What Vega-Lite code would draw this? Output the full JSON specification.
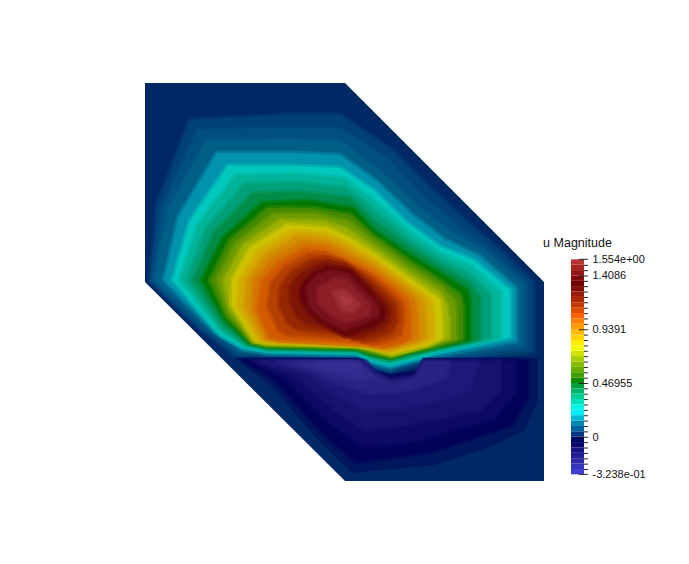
{"$schema":"https://vega.github.io/schema/vega-lite/v6.json","background":"white","padding":{"left":145,"top":83,"right":0,"bottom":0},"bounds":"flush","spacing":27,"resolve":{"scale":{"color":"independent"}},"config":{"view":{"stroke":null},"font":"Liberation Sans"},"hconcat":[{"width":399,"height":398,"projection":{"type":"identity","reflectY":true},"data":{"values":[
{"type":"Feature","properties":{"v":0.01},"geometry":{"type":"Polygon","coordinates":[[[0,398],[200,398],[399,199],[399,0],[200,0],[0,199],[0,398]]]}},
{"type":"Feature","properties":{"v":0.05},"geometry":{"type":"Polygon","coordinates":[[[5,201],[12,276],[45,361],[140,366],[195,366],[247,331],[285,293],[325,256],[360,226],[388,199],[388,129],[288,119],[272,117],[245,109],[225,114],[212,122],[122,124],[90,125],[54,154],[5,201]]]}},
{"type":"Feature","properties":{"v":0.075},"geometry":{"type":"Polygon","coordinates":[[[7,200],[17,273],[53,351],[143,353],[195,352],[241,323],[278,284],[315,253],[350,227],[382,198],[382,133],[288,121],[272,119],[245,111],[225,116],[212,124],[122,126],[93,128],[56,153],[7,200]]]}},
{"type":"Feature","properties":{"v":0.1},"geometry":{"type":"Polygon","coordinates":[[[10,201],[23,270],[62,340],[145,341],[195,339],[235,309],[272,274],[305,249],[340,229],[377,196],[377,136],[288,123],[272,120],[245,112],[225,117],[212,125],[122,127],[95,130],[63,154],[10,201]]]}},
{"type":"Feature","properties":{"v":0.155},"geometry":{"type":"Polygon","coordinates":[[[19,201],[34,265],[72,328],[145,328],[195,326],[231,300],[267,266],[300,241],[334,225],[371,193],[371,140],[288,125],[272,121],[245,114],[225,119],[212,126],[122,128],[97,132],[69,150],[19,201]]]}},
{"type":"Feature","properties":{"v":0.21},"geometry":{"type":"Polygon","coordinates":[[[28,201],[45,260],[83,315],[145,315],[195,313],[228,291],[262,258],[295,234],[328,221],[365,191],[365,144],[288,128],[272,123],[245,116],[225,121],[212,128],[122,130],[98,134],[75,146],[28,201]]]}},
{"type":"Feature","properties":{"v":0.275},"geometry":{"type":"Polygon","coordinates":[[[35,201],[53,256],[91,306],[149,307],[198,303],[228,281],[262,251],[295,228],[326,214],[355,189],[355,143],[288,130],[272,125],[245,118],[225,123],[212,129],[122,131],[100,135],[76,150],[35,201]]]}},
{"type":"Feature","properties":{"v":0.34},"geometry":{"type":"Polygon","coordinates":[[[42,201],[61,252],[100,297],[153,298],[201,293],[228,271],[262,243],[295,221],[325,206],[345,186],[345,143],[288,131],[272,127],[245,120],[225,124],[212,130],[122,132],[101,136],[77,153],[42,201]]]}},
{"type":"Feature","properties":{"v":0.405},"geometry":{"type":"Polygon","coordinates":[[[49,201],[69,248],[108,288],[157,289],[205,283],[228,261],[262,236],[295,215],[323,199],[335,184],[335,142],[288,132],[272,128],[245,121],[225,126],[212,131],[122,133],[103,137],[78,157],[49,201]]]}},
{"type":"Feature","properties":{"v":0.47},"geometry":{"type":"Polygon","coordinates":[[[57,201],[78,243],[117,278],[162,280],[208,273],[228,251],[262,228],[295,208],[322,191],[325,181],[325,141],[288,133],[272,130],[245,123],[225,127],[212,132],[122,134],[105,138],[80,161],[57,201]]]}},
{"type":"Feature","properties":{"v":0.545},"geometry":{"type":"Polygon","coordinates":[[[65,201],[85,241],[123,273],[167,273],[206,266],[228,246],[262,222],[295,201],[315,186],[318,175],[318,142],[286,134],[272,131],[245,124],[225,129],[212,133],[122,135],[106,139],[81,165],[65,201]]]}},
{"type":"Feature","properties":{"v":0.62},"geometry":{"type":"Polygon","coordinates":[[[72,201],[91,238],[129,267],[172,267],[204,259],[228,240],[262,216],[295,195],[309,181],[311,169],[311,142],[285,135],[272,132],[246,125],[225,130],[212,134],[122,136],[107,139],[83,169],[72,201]]]}},
{"type":"Feature","properties":{"v":0.695},"geometry":{"type":"Polygon","coordinates":[[[79,201],[98,236],[135,261],[177,260],[202,252],[228,234],[262,210],[295,188],[302,176],[304,163],[304,143],[284,136],[272,133],[246,126],[225,132],[212,135],[122,137],[108,140],[85,173],[79,201]]]}},
{"type":"Feature","properties":{"v":0.77},"geometry":{"type":"Polygon","coordinates":[[[87,201],[105,233],[142,256],[182,253],[200,245],[228,228],[262,204],[295,181],[296,171],[297,156],[297,143],[283,136],[272,133],[247,127],[225,133],[212,135],[122,138],[110,140],[87,176],[87,201]]]}},
{"type":"Feature","properties":{"v":0.835},"geometry":{"type":"Polygon","coordinates":[[[95,201],[113,230],[147,250],[181,248],[199,240],[228,223],[259,201],[286,181],[288,170],[289,157],[289,143],[276,137],[265,134],[244,129],[225,134],[212,136],[125,139],[113,141],[93,175],[95,201]]]}},
{"type":"Feature","properties":{"v":0.9},"geometry":{"type":"Polygon","coordinates":[[[102,201],[120,226],[152,245],[181,242],[197,235],[228,218],[256,198],[278,181],[280,170],[281,158],[281,143],[270,138],[259,135],[242,131],[225,135],[212,136],[128,140],[117,142],[100,174],[102,201]]]}},
{"type":"Feature","properties":{"v":0.965},"geometry":{"type":"Polygon","coordinates":[[[109,201],[127,223],[157,239],[180,237],[196,230],[228,213],[253,195],[270,181],[272,171],[273,159],[273,143],[263,139],[253,136],[239,133],[225,136],[212,137],[131,141],[121,143],[107,173],[109,201]]]}},
{"type":"Feature","properties":{"v":1.03},"geometry":{"type":"Polygon","coordinates":[[[117,200],[135,219],[162,233],[180,231],[195,224],[228,208],[250,191],[262,181],[264,171],[265,159],[265,143],[257,139],[247,136],[237,134],[225,136],[212,137],[135,141],[125,144],[113,171],[117,200]]]}},
{"type":"Feature","properties":{"v":1.1},"geometry":{"type":"Polygon","coordinates":[[[126,198],[141,215],[164,227],[180,227],[197,221],[226,205],[245,190],[256,179],[258,171],[258,160],[256,146],[247,142],[237,139],[227,137],[216,140],[204,142],[143,146],[134,151],[123,174],[126,198]]]}},
{"type":"Feature","properties":{"v":1.17},"geometry":{"type":"Polygon","coordinates":[[[136,196],[147,210],[166,221],[181,223],[200,218],[224,202],[240,188],[251,177],[252,170],[252,160],[247,149],[237,145],[228,142],[218,140],[207,143],[196,147],[152,152],[143,158],[134,176],[136,196]]]}},
{"type":"Feature","properties":{"v":1.245},"geometry":{"type":"Polygon","coordinates":[[[145,194],[153,206],[168,215],[181,219],[202,215],[222,199],[235,186],[245,175],[246,169],[245,161],[238,152],[227,148],[219,145],[209,143],[198,147],[188,152],[161,158],[152,165],[145,179],[145,194]]]}},
{"type":"Feature","properties":{"v":1.32},"geometry":{"type":"Polygon","coordinates":[[[155,191],[160,201],[170,209],[182,214],[205,211],[220,196],[230,184],[240,173],[240,168],[239,161],[230,155],[217,151],[210,148],[200,145],[190,150],[180,156],[170,163],[162,171],[156,181],[155,191]]]}},
{"type":"Feature","properties":{"v":1.38},"geometry":{"type":"Polygon","coordinates":[[[162,194],[173,206],[185,210],[203,207],[233,176],[233,165],[200,151],[177,163],[165,175],[162,194]]]}},
{"type":"Feature","properties":{"v":1.44},"geometry":{"type":"Polygon","coordinates":[[[173,193],[190,202],[202,201],[225,176],[223,166],[200,159],[183,169],[173,179],[173,193]]]}},
{"type":"Feature","properties":{"v":1.5},"geometry":{"type":"Polygon","coordinates":[[[188,189],[200,191],[215,177],[207,169],[197,171],[188,189]]]}},
{"type":"Feature","properties":{"v":1.54},"geometry":{"type":"Polygon","coordinates":[[[197,184],[205,181],[200,177],[197,184]]]}},
{"type":"Feature","properties":{"v":-0.02},"geometry":{"type":"Polygon","coordinates":[[[90,123],[212,123],[223,113],[245,107],[275,112],[280,123],[393,123],[393,81],[380,51],[345,34],[290,16],[207,8],[175,39],[125,96],[90,123]]]}},
{"type":"Feature","properties":{"v":-0.06},"geometry":{"type":"Polygon","coordinates":[[[98,121],[215,121],[225,109],[245,104],[273,108],[279,121],[383,121],[383,86],[367,56],[330,44],[285,29],[211,19],[180,46],[130,101],[98,121]]]}},
{"type":"Feature","properties":{"v":-0.1},"geometry":{"type":"Polygon","coordinates":[[[105,120],[217,120],[227,108],[245,102],[272,106],[279,120],[370,120],[370,89],[350,63],[315,53],[275,41],[220,33],[187,56],[140,103],[105,120]]]}},
{"type":"Feature","properties":{"v":-0.15},"geometry":{"type":"Polygon","coordinates":[[[110,120],[219,120],[229,108],[245,101],[271,105],[279,120],[355,120],[355,91],[335,71],[300,64],[260,56],[220,51],[190,71],[150,106],[110,120]]]}},
{"type":"Feature","properties":{"v":-0.2},"geometry":{"type":"Polygon","coordinates":[[[117,119],[221,119],[231,108],[245,100],[270,104],[279,119],[333,119],[325,91],[295,81],[255,73],[220,71],[190,88],[160,109],[117,119]]]}},
{"type":"Feature","properties":{"v":-0.25},"geometry":{"type":"Polygon","coordinates":[[[133,119],[215,119],[227,106],[247,98],[270,102],[279,119],[305,119],[300,103],[265,91],[225,88],[190,99],[165,111],[133,119]]]}},
{"type":"Feature","properties":{"v":-0.29},"geometry":{"type":"Polygon","coordinates":[[[150,119],[213,119],[223,109],[230,103],[205,103],[175,111],[150,119]]]}},
{"type":"Feature","properties":{"v":-0.31},"geometry":{"type":"Polygon","coordinates":[[[170,118],[210,118],[215,114],[200,110],[180,114],[170,118]]]}}
]},"mark":{"type":"geoshape","strokeOpacity":0.5,"strokeJoin":"round"},"encoding":{"color":{"field":"properties.v","type":"quantitative","legend":null,"scale":{"domain":[-0.3238,-0.2,-0.1,-0.05,0.01,0.1,0.21,0.34,0.47,0.62,0.77,0.9,1.03,1.17,1.32,1.44,1.554],"range":["#373296","#1e1978","#0c0a64","#000055","#002864","#005f87","#00c8bc","#00a078","#007800","#6e9b00","#cdc300","#d29100","#d25a00","#962800","#64050a","#8c1e28","#af3c46"]}},"stroke":{"field":"properties.v","type":"quantitative","legend":null,"scale":{"domain":[-0.3238,-0.2,-0.1,-0.05,0.01,0.1,0.21,0.34,0.47,0.62,0.77,0.9,1.03,1.17,1.32,1.44,1.554],"range":["#373296","#1e1978","#0c0a64","#000055","#002864","#005f87","#00c8bc","#00a078","#007800","#6e9b00","#cdc300","#d29100","#d25a00","#962800","#64050a","#8c1e28","#af3c46"]}},"strokeWidth":{"condition":{"test":"datum.properties.v==0.01||datum.properties.v==-0.02","value":0},"value":5}}},
{"width":13,"height":398,"layer":[
{"data":{"values":[{"lo":-0.324,"hi":-0.277},{"lo":-0.277,"hi":-0.23},{"lo":-0.23,"hi":-0.183},{"lo":-0.183,"hi":-0.136},{"lo":-0.136,"hi":-0.089},{"lo":-0.089,"hi":-0.042},{"lo":-0.042,"hi":0.005},{"lo":0.005,"hi":0.052},{"lo":0.052,"hi":0.099},{"lo":0.099,"hi":0.146},{"lo":0.146,"hi":0.193},{"lo":0.193,"hi":0.24},{"lo":0.24,"hi":0.287},{"lo":0.287,"hi":0.334},{"lo":0.334,"hi":0.381},{"lo":0.381,"hi":0.427},{"lo":0.427,"hi":0.474},{"lo":0.474,"hi":0.521},{"lo":0.521,"hi":0.568},{"lo":0.568,"hi":0.615},{"lo":0.615,"hi":0.662},{"lo":0.662,"hi":0.709},{"lo":0.709,"hi":0.756},{"lo":0.756,"hi":0.803},{"lo":0.803,"hi":0.85},{"lo":0.85,"hi":0.897},{"lo":0.897,"hi":0.944},{"lo":0.944,"hi":0.991},{"lo":0.991,"hi":1.038},{"lo":1.038,"hi":1.085},{"lo":1.085,"hi":1.132},{"lo":1.132,"hi":1.179},{"lo":1.179,"hi":1.226},{"lo":1.226,"hi":1.273},{"lo":1.273,"hi":1.32},{"lo":1.32,"hi":1.366},{"lo":1.366,"hi":1.413},{"lo":1.413,"hi":1.46},{"lo":1.46,"hi":1.507},{"lo":1.507,"hi":1.554}]},"mark":{"type":"rect"},"encoding":{"x":{"datum":0,"type":"quantitative","scale":{"domain":[0,1]},"axis":null},"x2":{"datum":1},"y":{"field":"lo","type":"quantitative","scale":{"domain":[-0.382,3.094],"nice":false,"zero":false},"axis":{"orient":"right","title":null,"values":[-0.3238,0,0.46955,0.9391,1.4086,1.554],"labelExpr":"datum.value==1.554?'1.554e+00':datum.value==-0.3238?'-3.238e-01':''+datum.value","ticks":false,"domain":false,"grid":false,"labelFontSize":11,"labelColor":"#111111","labelPadding":8,"labelOverlap":false,"labelFlush":false}},"y2":{"field":"hi"},"color":{"field":"lo","type":"quantitative","legend":null,"scale":{"domain":[-0.3238,-0.05,0,0.09,0.21,0.33,0.47,0.65,0.77,0.92,1.035,1.15,1.32,1.41,1.554],"range":["#4040d0","#000060","#003080","#0080a8","#00ffff","#00d098","#008c00","#a0c800","#ffff00","#ffaa00","#ff6400","#b83000","#6e0000","#961414","#c84040"]}}}},
{"data":{"values":[{"v":-0.282},{"v":-0.235},{"v":-0.188},{"v":-0.141},{"v":-0.094},{"v":-0.047},{"v":0.047},{"v":0.094},{"v":0.141},{"v":0.188},{"v":0.235},{"v":0.282},{"v":0.329},{"v":0.376},{"v":0.423},{"v":0.516},{"v":0.563},{"v":0.61},{"v":0.657},{"v":0.704},{"v":0.751},{"v":0.798},{"v":0.845},{"v":0.892},{"v":0.986},{"v":1.033},{"v":1.08},{"v":1.127},{"v":1.174},{"v":1.221},{"v":1.268},{"v":1.315},{"v":1.362},{"v":1.455},{"v":1.502}]},"mark":{"type":"rule","color":"#222222","strokeWidth":1},"encoding":{"x":{"datum":1,"type":"quantitative"},"x2":{"datum":1.3},"y":{"field":"v","type":"quantitative"}}},
{"data":{"values":[{"v":-0.3238},{"v":0},{"v":0.46955},{"v":0.9391},{"v":1.4086},{"v":1.554}]},"mark":{"type":"rule","color":"#222222","strokeWidth":1},"encoding":{"x":{"datum":0.6,"type":"quantitative"},"x2":{"datum":1.3},"y":{"field":"v","type":"quantitative"}}},
{"data":{"values":[{"label":"u Magnitude","v":1.697}]},"mark":{"type":"text","fontSize":12.5,"align":"center","baseline":"middle","color":"#111111"},"encoding":{"x":{"datum":0.5,"type":"quantitative"},"y":{"field":"v","type":"quantitative"},"text":{"field":"label"}}}
]}
]}
